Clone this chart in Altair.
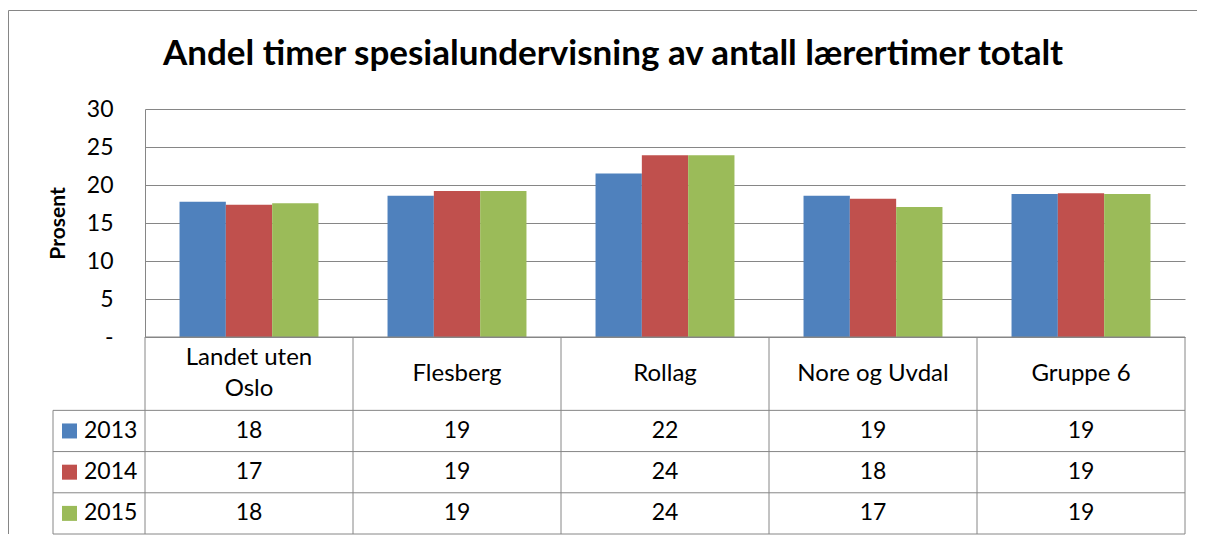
import altair as alt
import pandas as pd

# ---- data ----
categories = ["Landet uten Oslo", "Flesberg", "Rollag", "Nore og Uvdal", "Gruppe 6"]
header_labels = ["Landet uten\nOslo", "Flesberg", "Rollag", "Nore og Uvdal", "Gruppe 6"]
years = ["2013", "2014", "2015"]
v2013 = [17.8, 18.6, 21.5, 18.6, 18.8]
v2014 = [17.4, 19.2, 23.9, 18.2, 18.9]
v2015 = [17.6, 19.2, 23.9, 17.1, 18.8]
colors = ["#4F81BD", "#C0504D", "#9BBB59"]
y_ticks = [0, 5, 10, 15, 20, 25, 30]
title_text = "Andel timer spesialundervisning av antall lærertimer totalt"
y_title = "Prosent"

FONT = "Lato"
GRID = "#868686"

series = [v2013, v2014, v2015]
rows = []
for yi, yr in enumerate(years):
    for ci, cat in enumerate(categories):
        rows.append({"cat": cat, "year": yr, "value": series[yi][ci]})
df = pd.DataFrame(rows)

# ---- bar chart ----
bars = alt.Chart(df).mark_bar().encode(
    x=alt.X("cat:N", sort=categories, axis=None,
            scale=alt.Scale(paddingInner=0.332, paddingOuter=0.166)),
    xOffset=alt.XOffset("year:N", sort=years),
    y=alt.Y("value:Q", scale=alt.Scale(domain=[0, 30], nice=False, zero=True),
            axis=alt.Axis(values=y_ticks, title=y_title, grid=True, gridColor=GRID,
                          gridOpacity=1, ticks=False, domain=True, domainColor=GRID,
                          labelExpr="datum.value == 0 ? '-\u00a0\u00a0' : datum.label",
                          labelFont=FONT, labelFontSize=23, labelColor="black",
                          labelPadding=32, titleFont=FONT, titleFontSize=21,
                          titleFontWeight="bold", titleColor="black", titlePadding=18)),
    color=alt.Color("year:N", scale=alt.Scale(domain=years, range=colors), legend=None),
).properties(width=1040, height=228)

# ---- table geometry (row boundaries in row units) ----
header_h = 1.78
bounds_y = [0.0, header_h] + [header_h + i + 1 for i in range(len(years))]
total_h = bounds_y[-1]
yscale = alt.Scale(domain=[0, total_h], reverse=True, nice=False, zero=False)

cells = []
for ci, lab in enumerate(header_labels):
    cells.append({"x": ci + 0.5, "y": header_h / 2, "t": lab, "kind": "h"})
for yi, yr in enumerate(years):
    for ci in range(len(categories)):
        cells.append({"x": ci + 0.5, "y": header_h + yi + 0.5,
                      "t": str(int(series[yi][ci] + 0.5)), "kind": "v"})
cells_df = pd.DataFrame(cells)

ncat = len(categories)
hlines = pd.DataFrame([{"x": 0, "x2": ncat, "y": b} for b in bounds_y])
vlines = pd.DataFrame([{"x": i, "y": 0, "y2": total_h} for i in range(ncat + 1)])

xscale_t = alt.Scale(domain=[0, ncat], nice=False, zero=False)

t_h = alt.Chart(hlines).mark_rule(color=GRID, strokeWidth=1).encode(
    x=alt.X("x:Q", scale=xscale_t, axis=None), x2="x2:Q",
    y=alt.Y("y:Q", scale=yscale, axis=None))
t_v = alt.Chart(vlines).mark_rule(color=GRID, strokeWidth=1).encode(
    x=alt.X("x:Q", scale=xscale_t, axis=None),
    y=alt.Y("y:Q", scale=yscale, axis=None), y2="y2:Q")
t_head1 = alt.Chart(cells_df).transform_filter(
    "datum.kind == 'h' && indexof(datum.t, '\\n') < 0").mark_text(
    font=FONT, fontSize=24, color="black", align="center", baseline="middle").encode(
    x=alt.X("x:Q", scale=xscale_t, axis=None),
    y=alt.Y("y:Q", scale=yscale, axis=None), text="t:N")
t_head2 = alt.Chart(cells_df).transform_filter(
    "datum.kind == 'h' && indexof(datum.t, '\\n') >= 0").mark_text(
    font=FONT, fontSize=24, color="black", lineBreak="\n", lineHeight=31, dy=-15.5,
    align="center", baseline="middle").encode(
    x=alt.X("x:Q", scale=xscale_t, axis=None),
    y=alt.Y("y:Q", scale=yscale, axis=None), text="t:N")
t_val = alt.Chart(cells_df).transform_filter("datum.kind == 'v'").mark_text(
    font=FONT, fontSize=23, color="black", align="center", baseline="middle").encode(
    x=alt.X("x:Q", scale=xscale_t, axis=None),
    y=alt.Y("y:Q", scale=yscale, axis=None), text="t:N")
table = alt.layer(t_h, t_v, t_head1, t_head2, t_val).properties(width=1040, height=197)

# ---- legend column ----
leg_df = pd.DataFrame([{"year": yr, "y": header_h + i + 0.5} for i, yr in enumerate(years)])
leg_h = pd.DataFrame([{"x": 0, "x2": 1, "y": b} for b in bounds_y[1:]])
leg_v = pd.DataFrame([{"x": 0, "y": header_h, "y2": total_h}])
xscale_l = alt.Scale(domain=[0, 1], nice=False, zero=False)
l_h = alt.Chart(leg_h).mark_rule(color=GRID).encode(
    x=alt.X("x:Q", scale=xscale_l, axis=None), x2="x2:Q",
    y=alt.Y("y:Q", scale=yscale, axis=None))
l_v = alt.Chart(leg_v).mark_rule(color=GRID).encode(
    x=alt.X("x:Q", scale=xscale_l, axis=None),
    y=alt.Y("y:Q", scale=yscale, axis=None), y2="y2:Q")
l_sq = alt.Chart(leg_df).mark_square(size=225, opacity=1).encode(
    x=alt.value(16.5),
    y=alt.Y("y:Q", scale=yscale, axis=None),
    color=alt.Color("year:N", scale=alt.Scale(domain=years, range=colors), legend=None))
l_tx = alt.Chart(leg_df).mark_text(font=FONT, fontSize=23, color="black",
                                   align="left", baseline="middle").encode(
    x=alt.value(31),
    y=alt.Y("y:Q", scale=yscale, axis=None), text="year:N")
legcol = alt.layer(l_h, l_v, l_sq, l_tx).properties(width=92, height=197)

# ---- top-left cell: chart title and the outer frame of the chart object ----
deco_df = pd.DataFrame([{"k": "top"}, {"k": "left"}, {"k": "title", "t": title_text}])
f_top = alt.Chart(deco_df).transform_filter("datum.k == 'top'").mark_rule(
    color=GRID, strokeWidth=1).encode(
    x=alt.value(-44.5), x2=alt.value(1144), y=alt.value(-98.5))
f_left = alt.Chart(deco_df).transform_filter("datum.k == 'left'").mark_rule(
    color=GRID, strokeWidth=1).encode(
    x=alt.value(-44.5), y=alt.value(-98.5), y2=alt.value(425))
f_title = alt.Chart(deco_df).transform_filter("datum.k == 'title'").mark_text(
    font=FONT, fontSize=35, fontWeight="bold", color="black", align="center",
    baseline="alphabetic").encode(
    x=alt.value(560), y=alt.value(-44), text="t:N")
corner = alt.layer(f_top, f_left, f_title).properties(width=92, height=228)

chart = alt.concat(corner, bars, legcol, table, columns=2, spacing=0, bounds="flush").resolve_scale(
    x="independent", y="independent", color="shared"
).properties(
    padding={"left": 0, "top": 2, "right": 0, "bottom": 0},
).configure_view(strokeWidth=0)

chart.save("out.html", embed_options={"renderer": "svg", "actions": False})
